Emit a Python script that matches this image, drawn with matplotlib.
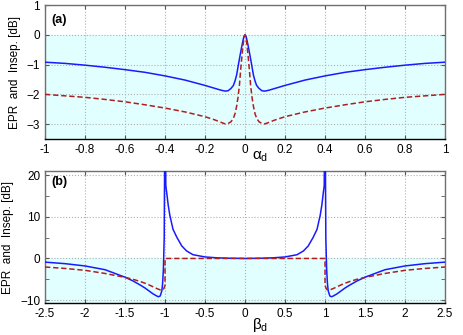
import numpy as np
import matplotlib
matplotlib.use('Agg')
import matplotlib.pyplot as plt

plt.rcParams['font.family'] = ['Liberation Sans', 'DejaVu Sans']
plt.rcParams['mathtext.fontset'] = 'custom'
plt.rcParams['mathtext.rm'] = 'Liberation Sans'
plt.rcParams['mathtext.it'] = 'Liberation Sans'

# ---- panel (a): values vs alpha_d ----
alpha = [-1.0, -0.9, -0.8, -0.7, -0.6, -0.5, -0.4, -0.3, -0.2, -0.15, -0.12, -0.1,
         -0.085, -0.07, -0.058, -0.05, -0.042, -0.033, -0.025, -0.018, -0.012, -0.006, 0.0,
         0.006, 0.012, 0.018, 0.025, 0.033, 0.042, 0.05, 0.058, 0.07, 0.085,
         0.1, 0.12, 0.15, 0.2, 0.3, 0.4, 0.5, 0.6, 0.7, 0.8, 0.9, 1.0]
epr_a = [-0.92, -0.96, -1.02, -1.09, -1.17, -1.26, -1.38, -1.52, -1.70, -1.80, -1.86, -1.89,
         -1.88, -1.80, -1.70, -1.55, -1.35, -1.00, -0.70, -0.45, -0.25, -0.07, 0.0,
         -0.07, -0.25, -0.45, -0.70, -1.00, -1.35, -1.55, -1.70, -1.80, -1.88,
         -1.89, -1.86, -1.80, -1.70, -1.52, -1.38, -1.26, -1.17, -1.09, -1.02, -0.96, -0.92]
alpha_r = [-1.0, -0.9, -0.8, -0.7, -0.6, -0.5, -0.4, -0.3, -0.2, -0.15, -0.12, -0.1,
           -0.085, -0.07, -0.058, -0.05, -0.042, -0.035, -0.028, -0.022, -0.016, -0.01, -0.005, 0.0,
           0.005, 0.01, 0.016, 0.022, 0.028, 0.035, 0.042, 0.05, 0.058, 0.07, 0.085,
           0.1, 0.12, 0.15, 0.2, 0.3, 0.4, 0.5, 0.6, 0.7, 0.8, 0.9, 1.0]
insep_a = [-2.0, -2.05, -2.1, -2.17, -2.25, -2.35, -2.46, -2.59, -2.75, -2.86, -2.94, -2.99,
           -2.98, -2.92, -2.80, -2.65, -2.40, -2.10, -1.70, -1.20, -0.75, -0.35, -0.10, 0.0,
           -0.10, -0.35, -0.75, -1.20, -1.70, -2.10, -2.40, -2.65, -2.80, -2.92, -2.98,
           -2.99, -2.94, -2.86, -2.75, -2.59, -2.46, -2.35, -2.25, -2.17, -2.1, -2.05, -2.0]

# ---- panel (b): values vs beta_d ----
beta = [-2.5, -2.25, -2.0, -1.75, -1.5, -1.4, -1.3, -1.25, -1.2, -1.15, -1.1, -1.08,
        -1.06, -1.04, -1.03, -1.02, -1.01, -1.0, -0.99, -0.98, -0.96, -0.94, -0.9, -0.85,
        -0.79, -0.73, -0.65, -0.5, -0.35, -0.2, 0.0,
        0.2, 0.35, 0.5, 0.65, 0.73, 0.79, 0.85, 0.9, 0.94, 0.96, 0.98, 0.99, 1.0,
        1.01, 1.02, 1.03, 1.04, 1.06, 1.08, 1.1, 1.15, 1.2, 1.25, 1.3, 1.4, 1.5, 1.75,
        2.0, 2.25, 2.5]
epr_b = [-0.88, -1.25, -1.8, -2.7, -4.5, -5.4, -6.5, -7.1, -7.8, -8.5, -9.05, -9.2,
         -9.0, -7.8, -6.0, -2.5, 5.0, 40.0, 17.5, 16.0, 12.8, 10.4, 7.0, 5.0,
         3.0, 1.8, 0.9, 0.36, 0.15, 0.06, 0.0,
         0.06, 0.15, 0.36, 0.9, 1.8, 3.0, 5.0, 7.0, 10.4, 12.8, 16.0, 17.5, 40.0,
         5.0, -2.5, -6.0, -7.8, -9.0, -9.2, -9.05, -8.5, -7.8, -7.1, -6.5, -5.4, -4.5, -2.7,
         -1.8, -1.25, -0.88]
beta_r = [-2.5, -2.25, -2.0, -1.75, -1.5, -1.4, -1.3, -1.25, -1.2, -1.15, -1.1, -1.06,
          -1.04, -1.02, -1.01, -1.0, -1.0, 0.0, 1.0, 1.0, 1.01, 1.02, 1.04, 1.06,
          1.1, 1.15, 1.2, 1.25, 1.3, 1.4, 1.5, 1.75, 2.0, 2.25, 2.5]
insep_b = [-2.05, -2.4, -2.85, -3.6, -4.55, -5.0, -5.6, -5.95, -6.35, -6.8, -7.25, -7.55,
           -7.6, -7.4, -7.0, -6.5, 0.0, 0.0, 0.0, -6.5, -7.0, -7.4, -7.6, -7.55,
           -7.25, -6.8, -6.35, -5.95, -5.6, -5.0, -4.55, -3.6, -2.85, -2.4, -2.05]

blue = '#1a1aff'
red = '#b01e1e'
fill = '#e2ffff'

fig = plt.figure(figsize=(4.63, 3.35), dpi=100)
ax1 = fig.add_axes([0.0972, 0.585, 0.864, 0.400])
ax2 = fig.add_axes([0.0972, 0.0955, 0.864, 0.394])


def style(ax):
    ax.grid(True, linestyle=':', color='#b0b0b0', linewidth=0.8)
    ax.set_axisbelow(True)
    for s in ['top', 'left', 'right']:
        ax.spines[s].set_color('#707070')
    ax.spines['bottom'].set_color('black')
    for s in ax.spines.values():
        s.set_linewidth(1.0)
    ax.tick_params(direction='in', top=True, right=True, length=3, color='#555555',
                   labelsize=8.5, pad=3.5)
    ax.tick_params(which='minor', direction='in', right=True, length=3, color='#555555')
    ax.set_ylabel('EPR  and  Insep. [dB]', fontsize=8.5, labelpad=4)


# panel (a)
ax1.axhspan(-3.5, 0, color=fill, zorder=0)
ax1.plot(alpha, epr_a, color=blue, linewidth=1.1, zorder=3)
ax1.plot(alpha_r, insep_a, color=red, linewidth=1.1, linestyle=(0, (3.5, 1.8)), zorder=4)
ax1.set_xlim(-1, 1)
ax1.set_ylim(-3.5, 1)
ax1.set_xticks(np.arange(-1, 1.01, 0.2))
ax1.set_xticklabels(['-1', '-0.8', '-0.6', '-0.4', '-0.2', '0', '0.2', '0.4', '0.6', '0.8', '1'])
ax1.set_yticks([-3, -2, -1, 0, 1])
style(ax1)
ax1.text(0.015, 0.93, '(a)', transform=ax1.transAxes, fontsize=9, fontweight='bold', va='top')

# panel (b)
ax2.axhspan(-10.7, 0, color=fill, zorder=0)
ax2.plot(beta, epr_b, color=blue, linewidth=1.1, zorder=3)
ax2.plot(beta_r, insep_b, color=red, linewidth=1.1, linestyle=(0, (3.5, 1.8)), zorder=4)
ax2.set_xlim(-2.5, 2.5)
ax2.set_ylim(-10.7, 21)
ax2.set_xticks(np.arange(-2.5, 2.51, 0.5))
ax2.set_xticklabels(['-2.5', '-2', '-1.5', '-1', '-0.5', '0', '0.5', '1', '1.5', '2', '2.5'])
ax2.set_yticks([-10, 0, 10, 20])
ax2.set_yticks([-5, 5, 15], minor=True)
style(ax2)
ax2.text(0.015, 0.96, '(b)', transform=ax2.transAxes, fontsize=9, fontweight='bold', va='top')

# x labels sit a little right of centre, below the tick labels
fig.text(0.5616, 0.531, r'$\alpha_d$', fontsize=11, ha='center', va='center')
fig.text(0.5616, 0.0299, r'$\beta_d$', fontsize=11, ha='center', va='center')

fig.savefig('out.png', dpi=100)
